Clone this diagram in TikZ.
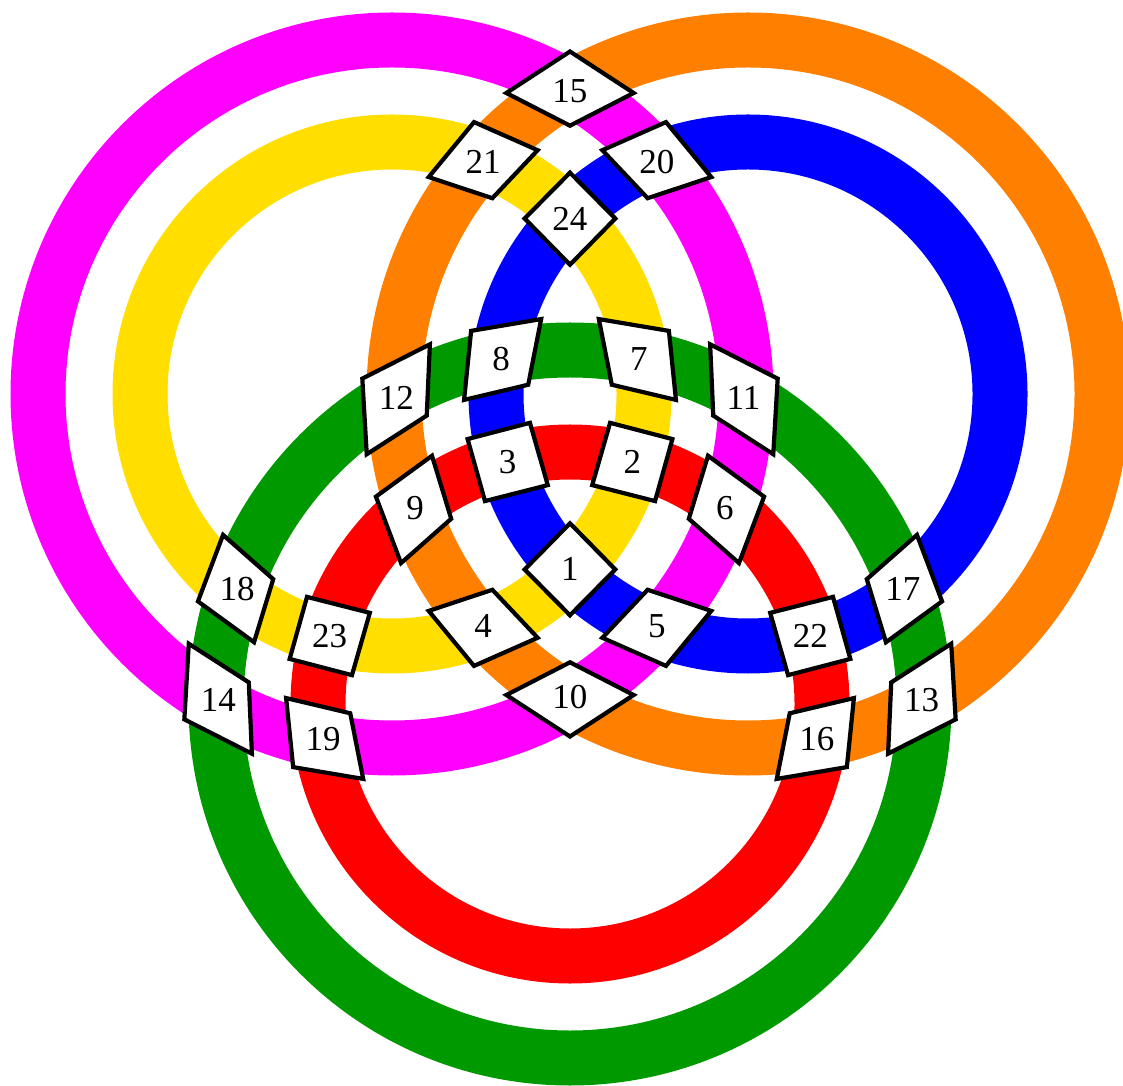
\documentclass[tikz,border=0pt]{standalone}
\usepackage{fontspec}
\setmainfont{Liberation Serif}
\usetikzlibrary{calc}

\definecolor{ringmagenta}{RGB}{255,0,255}
\definecolor{ringyellow}{RGB}{255,222,0}
\definecolor{ringorange}{RGB}{255,128,0}
\definecolor{ringblue}{RGB}{0,0,255}
\definecolor{ringgreen}{RGB}{0,153,0}
\definecolor{ringred}{RGB}{255,0,0}

\begin{document}
\begin{tikzpicture}[
    x=1pt, y=1pt,
    ring/.style={line width=55pt},
    tile/.style={draw=black, fill=white, line width=4.2pt, line join=miter},
    lbl/.style={inner sep=0pt, font=\fontsize{35}{40}\selectfont}
]
\useasboundingbox (0,0) rectangle (1123,1085);
\clip (0,0) rectangle (1123,1085);

% --- Centres of the three ring pairs ---
\coordinate (A) at (392,691);
\coordinate (B) at (748,691);
\coordinate (C) at (570,381);

% --- Rings ---
\draw[ring, ringmagenta] (A) circle[radius=354];
\draw[ring, ringyellow] (A) circle[radius=252];
\draw[ring, ringorange] (B) circle[radius=354];
\draw[ring, ringblue] (B) circle[radius=252];
\draw[ring, ringgreen] (C) circle[radius=354];
\draw[ring, ringred] (C) circle[radius=252];

% --- Crossing tiles (radii and distances in units of 100) ---
\foreach \lab/\ca/\ang/\dd/\ra/\rb/\sg in {
    15/A/0/3.56/3.54/3.54/+, 10/A/0/3.56/3.54/3.54/-,
    24/A/0/3.56/2.52/2.52/+, 1/A/0/3.56/2.52/2.52/-,
    20/A/0/3.56/3.54/2.52/+, 5/A/0/3.56/3.54/2.52/-,
    21/A/0/3.56/2.52/3.54/+, 4/A/0/3.56/2.52/3.54/-,
    11/A/-60.13/3.575/3.54/3.54/+, 14/A/-60.13/3.575/3.54/3.54/-,
    2/A/-60.13/3.575/2.52/2.52/+, 23/A/-60.13/3.575/2.52/2.52/-,
    6/A/-60.13/3.575/3.54/2.52/+, 19/A/-60.13/3.575/3.54/2.52/-,
    7/A/-60.13/3.575/2.52/3.54/+, 18/A/-60.13/3.575/2.52/3.54/-,
    13/B/-119.87/3.575/3.54/3.54/+, 12/B/-119.87/3.575/3.54/3.54/-,
    22/B/-119.87/3.575/2.52/2.52/+, 3/B/-119.87/3.575/2.52/2.52/-,
    16/B/-119.87/3.575/3.54/2.52/+, 9/B/-119.87/3.575/3.54/2.52/-,
    17/B/-119.87/3.575/2.52/3.54/+, 8/B/-119.87/3.575/2.52/3.54/-} {
  \foreach \i/\da/\db in {1/-1/-1, 2/1/-1, 3/1/1, 4/-1/1} {
    \pgfmathsetmacro\pa{\ra+(\da)*0.32}
    \pgfmathsetmacro\pb{\rb+(\db)*0.32}
    \pgfmathsetmacro\ka{(\dd*\dd+\pa*\pa-\pb*\pb)/(2*\dd)}
    \pgfmathsetmacro\kt{\ang\sg acos(\ka/\pa)}
    \pgfmathsetmacro\kr{100*\pa}
    \coordinate (k\lab-\i) at ($(\ca)+(\kt:\kr)$);
  }
  \draw[tile] (k\lab-1) -- (k\lab-2) -- (k\lab-3) -- (k\lab-4) -- cycle;
  \node[lbl] (n\lab) at ($0.25*(k\lab-1)+0.25*(k\lab-2)+0.25*(k\lab-3)+0.25*(k\lab-4)$) {\lab};
}

\end{tikzpicture}
\end{document}
